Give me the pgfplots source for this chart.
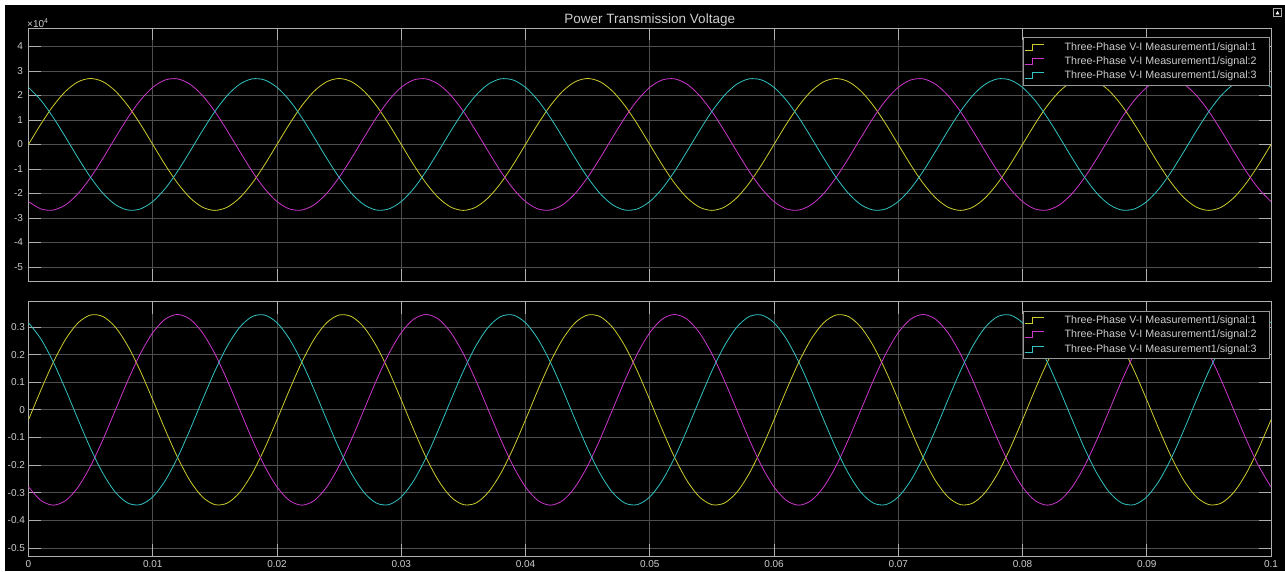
\documentclass[border=0pt]{standalone}
\usepackage{pgfplots}
\pgfplotsset{compat=1.18}
\usepackage{pgfplotstable}
\usepackage{fontspec}
\setmainfont{Liberation Sans}
\definecolor{sy}{RGB}{205,205,45}
\definecolor{sm}{RGB}{205,55,205}
\definecolor{sc}{RGB}{50,195,195}
\definecolor{gridcol}{RGB}{78,78,78}
\definecolor{axcol}{RGB}{175,175,175}
\definecolor{tickcol}{RGB}{205,205,205}
\definecolor{legbox}{RGB}{150,150,150}

\pgfplotstableread{
t ya yb yc ba bb bc
0.000 0 -23296 23296 -0.0361 -0.2791 0.3152
0.001 8313 -26312 18000 0.0717 -0.3281 0.2564
0.002 15812 -26753 10941 0.1725 -0.345 0.1725
0.003 21763 -24574 2812 0.2564 -0.3281 0.0717
0.004 25584 -19990 -5593 0.3152 -0.2791 -0.0361
0.005 26900 -13450 -13450 0.3431 -0.2028 -0.1403
0.006 25584 -5593 -19990 0.3375 -0.1066 -0.2308
0.007 21763 2812 -24574 0.2988 0 -0.2988
0.008 15812 10941 -26753 0.2308 0.1066 -0.3375
0.009 8313 18000 -26312 0.1403 0.2028 -0.3431
0.010 0 23296 -23296 0.0361 0.2791 -0.3152
0.011 -8313 26312 -18000 -0.0717 0.3281 -0.2564
0.012 -15812 26753 -10941 -0.1725 0.345 -0.1725
0.013 -21763 24574 -2812 -0.2564 0.3281 -0.0717
0.014 -25584 19990 5593 -0.3152 0.2791 0.0361
0.015 -26900 13450 13450 -0.3431 0.2028 0.1403
0.016 -25584 5593 19990 -0.3375 0.1066 0.2308
0.017 -21763 -2812 24574 -0.2988 0 0.2988
0.018 -15812 -10941 26753 -0.2308 -0.1066 0.3375
0.019 -8313 -18000 26312 -0.1403 -0.2028 0.3431
0.020 0 -23296 23296 -0.0361 -0.2791 0.3152
0.021 8313 -26312 18000 0.0717 -0.3281 0.2564
0.022 15812 -26753 10941 0.1725 -0.345 0.1725
0.023 21763 -24574 2812 0.2564 -0.3281 0.0717
0.024 25584 -19990 -5593 0.3152 -0.2791 -0.0361
0.025 26900 -13450 -13450 0.3431 -0.2028 -0.1403
0.026 25584 -5593 -19990 0.3375 -0.1066 -0.2308
0.027 21763 2812 -24574 0.2988 0 -0.2988
0.028 15812 10941 -26753 0.2308 0.1066 -0.3375
0.029 8313 18000 -26312 0.1403 0.2028 -0.3431
0.030 0 23296 -23296 0.0361 0.2791 -0.3152
0.031 -8313 26312 -18000 -0.0717 0.3281 -0.2564
0.032 -15812 26753 -10941 -0.1725 0.345 -0.1725
0.033 -21763 24574 -2812 -0.2564 0.3281 -0.0717
0.034 -25584 19990 5593 -0.3152 0.2791 0.0361
0.035 -26900 13450 13450 -0.3431 0.2028 0.1403
0.036 -25584 5593 19990 -0.3375 0.1066 0.2308
0.037 -21763 -2812 24574 -0.2988 0 0.2988
0.038 -15812 -10941 26753 -0.2308 -0.1066 0.3375
0.039 -8313 -18000 26312 -0.1403 -0.2028 0.3431
0.040 0 -23296 23296 -0.0361 -0.2791 0.3152
0.041 8313 -26312 18000 0.0717 -0.3281 0.2564
0.042 15812 -26753 10941 0.1725 -0.345 0.1725
0.043 21763 -24574 2812 0.2564 -0.3281 0.0717
0.044 25584 -19990 -5593 0.3152 -0.2791 -0.0361
0.045 26900 -13450 -13450 0.3431 -0.2028 -0.1403
0.046 25584 -5593 -19990 0.3375 -0.1066 -0.2308
0.047 21763 2812 -24574 0.2988 0 -0.2988
0.048 15812 10941 -26753 0.2308 0.1066 -0.3375
0.049 8313 18000 -26312 0.1403 0.2028 -0.3431
0.050 0 23296 -23296 0.0361 0.2791 -0.3152
0.051 -8313 26312 -18000 -0.0717 0.3281 -0.2564
0.052 -15812 26753 -10941 -0.1725 0.345 -0.1725
0.053 -21763 24574 -2812 -0.2564 0.3281 -0.0717
0.054 -25584 19990 5593 -0.3152 0.2791 0.0361
0.055 -26900 13450 13450 -0.3431 0.2028 0.1403
0.056 -25584 5593 19990 -0.3375 0.1066 0.2308
0.057 -21763 -2812 24574 -0.2988 0 0.2988
0.058 -15812 -10941 26753 -0.2308 -0.1066 0.3375
0.059 -8313 -18000 26312 -0.1403 -0.2028 0.3431
0.060 0 -23296 23296 -0.0361 -0.2791 0.3152
0.061 8313 -26312 18000 0.0717 -0.3281 0.2564
0.062 15812 -26753 10941 0.1725 -0.345 0.1725
0.063 21763 -24574 2812 0.2564 -0.3281 0.0717
0.064 25584 -19990 -5593 0.3152 -0.2791 -0.0361
0.065 26900 -13450 -13450 0.3431 -0.2028 -0.1403
0.066 25584 -5593 -19990 0.3375 -0.1066 -0.2308
0.067 21763 2812 -24574 0.2988 0 -0.2988
0.068 15812 10941 -26753 0.2308 0.1066 -0.3375
0.069 8313 18000 -26312 0.1403 0.2028 -0.3431
0.070 0 23296 -23296 0.0361 0.2791 -0.3152
0.071 -8313 26312 -18000 -0.0717 0.3281 -0.2564
0.072 -15812 26753 -10941 -0.1725 0.345 -0.1725
0.073 -21763 24574 -2812 -0.2564 0.3281 -0.0717
0.074 -25584 19990 5593 -0.3152 0.2791 0.0361
0.075 -26900 13450 13450 -0.3431 0.2028 0.1403
0.076 -25584 5593 19990 -0.3375 0.1066 0.2308
0.077 -21763 -2812 24574 -0.2988 0 0.2988
0.078 -15812 -10941 26753 -0.2308 -0.1066 0.3375
0.079 -8313 -18000 26312 -0.1403 -0.2028 0.3431
0.080 0 -23296 23296 -0.0361 -0.2791 0.3152
0.081 8313 -26312 18000 0.0717 -0.3281 0.2564
0.082 15812 -26753 10941 0.1725 -0.345 0.1725
0.083 21763 -24574 2812 0.2564 -0.3281 0.0717
0.084 25584 -19990 -5593 0.3152 -0.2791 -0.0361
0.085 26900 -13450 -13450 0.3431 -0.2028 -0.1403
0.086 25584 -5593 -19990 0.3375 -0.1066 -0.2308
0.087 21763 2812 -24574 0.2988 0 -0.2988
0.088 15812 10941 -26753 0.2308 0.1066 -0.3375
0.089 8313 18000 -26312 0.1403 0.2028 -0.3431
0.090 0 23296 -23296 0.0361 0.2791 -0.3152
0.091 -8313 26312 -18000 -0.0717 0.3281 -0.2564
0.092 -15812 26753 -10941 -0.1725 0.345 -0.1725
0.093 -21763 24574 -2812 -0.2564 0.3281 -0.0717
0.094 -25584 19990 5593 -0.3152 0.2791 0.0361
0.095 -26900 13450 13450 -0.3431 0.2028 0.1403
0.096 -25584 5593 19990 -0.3375 0.1066 0.2308
0.097 -21763 -2812 24574 -0.2988 0 0.2988
0.098 -15812 -10941 26753 -0.2308 -0.1066 0.3375
0.099 -8313 -18000 26312 -0.1403 -0.2028 0.3431
0.100 0 -23296 23296 -0.0361 -0.2791 0.3152
}\datatable

\pgfplotsset{
  scopestyle/.style={
    scale only axis,
    width=1242.5pt,
    xmin=0, xmax=0.1,
    xtick={0,0.01,...,0.1},
    axis line style={draw=axcol, line width=0.8pt},
    grid=major,
    major grid style={draw=gridcol, line width=0.8pt},
    tick align=inside,
    major tick length=12pt,
    tick style={draw=axcol, line width=0.8pt},
    xtick pos=both, ytick pos=both,
    /pgf/number format/assume math mode=true,
    tick label style={text=tickcol, font=\fontsize{10}{12}\selectfont},
    every axis plot/.append style={line width=0.8pt, smooth, no markers},
    legend image code/.code={\draw[##1] (0pt,-3pt) -- (8pt,-3pt) -- (8pt,3pt) -- (19pt,3pt); \path[draw=none,fill=none] (0pt,0pt) -- (37pt,0pt);},
    legend style={at={(rel axis cs:1,1)}, anchor=north east, xshift=-1.5pt, yshift=-9pt,
      fill=black, draw=legbox, line width=0.7pt, text=tickcol,
      font=\fontsize{10.7}{12}\selectfont, row sep=1pt, inner xsep=0.5pt, inner ysep=3pt,
      nodes={inner xsep=3pt}},
    legend cell align=left,
  }
}

\begin{document}
\begin{tikzpicture}[x=1pt,y=1pt]
\useasboundingbox (0,0) rectangle (1285,571);
\fill[white] (0,0) rectangle (1285,571);
\fill[black] (5,0) rectangle (1285,566);
\draw[axcol, line width=0.6pt] (1273.5,554.5) rectangle (1281.5,562.5);
\fill[white] (1275.5,556.5) -- (1277.5,560) -- (1279.5,556.5) -- cycle;

\begin{axis}[scopestyle,
  at={(28.5pt,290pt)}, anchor=south west,
  height=253pt,
  ymin=-55700, ymax=47500,
  ytick={-50000,-40000,...,40000},
  xticklabels={},
  scaled y ticks=base 10:-4,
  ytick scale label code/.code={×10\textsuperscript{#1}},
  every y tick scale label/.style={at={(rel axis cs:0,1)}, anchor=south west, inner sep=0.5pt, text=tickcol, font=\fontsize{10}{11}\selectfont},
  yticklabel style={/pgf/number format/fixed, xshift=-2pt},
  title={Power Transmission Voltage},
  title style={text=tickcol, font=\fontsize{13.5}{15}\selectfont, yshift=-8pt},
]
\addplot[sy] table[x=t, y=ya] {\datatable};
\addplot[sm] table[x=t, y=yb] {\datatable};
\addplot[sc] table[x=t, y=yc] {\datatable};
\legend{Three-Phase V-I Measurement1/signal:1\hspace*{9pt}, Three-Phase V-I Measurement1/signal:2\hspace*{9pt}, Three-Phase V-I Measurement1/signal:3\hspace*{9pt}}
\end{axis}

\begin{axis}[scopestyle,
  at={(28.5pt,15pt)}, anchor=south west,
  height=254.5pt,
  ymin=-0.529, ymax=0.392,
  ytick={-0.5,-0.4,-0.3,-0.2,-0.1,0,0.1,0.2,0.3},
  yticklabels={-0.5,-0.4,-0.3,-0.2,-0.1,0,0.1,0.2,0.3},
  scaled y ticks=false, scaled x ticks=false,
  xticklabels={0,0.01,0.02,0.03,0.04,0.05,0.06,0.07,0.08,0.09,0.1},
  xticklabel style={inner sep=1.5pt, yshift=-2.5pt},
]
\addplot[sy] table[x=t, y=ba] {\datatable};
\addplot[sm] table[x=t, y=bb] {\datatable};
\addplot[sc] table[x=t, y=bc] {\datatable};
\legend{Three-Phase V-I Measurement1/signal:1\hspace*{9pt}, Three-Phase V-I Measurement1/signal:2\hspace*{9pt}, Three-Phase V-I Measurement1/signal:3\hspace*{9pt}}
\end{axis}
\end{tikzpicture}
\end{document}
